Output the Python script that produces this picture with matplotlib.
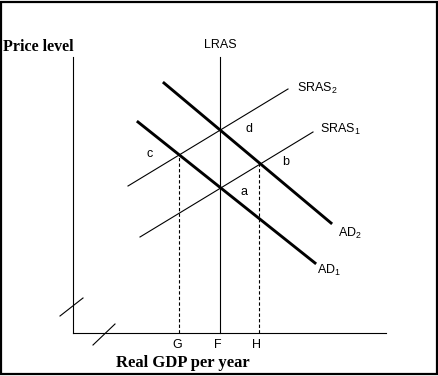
import matplotlib.pyplot as plt

plt.rcParams['mathtext.fontset'] = 'custom'
plt.rcParams['mathtext.rm'] = 'Liberation Sans'

# curve end points (x = real GDP, y = price level), origin at the axes corner
lras_x = [147, 147]
lras_y = [0, 276]
sras1_x = [67, 240]
sras1_y = [96, 201]
sras2_x = [55, 215]
sras2_y = [147, 244]
ad1_x = [65, 242]
ad1_y = [211, 70]
ad2_x = [91, 258]
ad2_y = [250, 110]

# output levels marked on the x axis and the equilibrium heights above them
gdp_ticks = ["G", "F", "H"]
gdp_x = [106, 147, 186]
dashed_top = [178, None, 170]

# point labels
point_labels = ["a", "b", "c", "d"]
point_x = [171, 213, 77, 176]
point_y = [141, 171, 179, 204]

x_axis_end = 313
y_axis_end = 276

fig = plt.figure(figsize=(4.39, 3.76), dpi=100)
ax = fig.add_axes([0, 0, 1, 1])
ax.set_xlim(-73, 366)
ax.set_ylim(-43, 333)
ax.axis("off")

thin = 0.8
sans = "Liberation Sans"
serif = "Liberation Serif"
fs = 9

# border around the picture
fig.patches.append(plt.Rectangle((0.002, 0.004), 0.994, 0.992, transform=fig.transFigure,
                                 fill=False, edgecolor="black", linewidth=1.6))

# axes
ax.plot([0, 0], [0, y_axis_end], color="black", lw=thin)
ax.plot([0, x_axis_end], [0, 0], color="black", lw=thin)
# axis break marks
ax.plot([-13, 10], [17, 35], color="black", lw=thin)
ax.plot([20, 42], [-12, 9], color="black", lw=thin)

# curves
ax.plot(lras_x, lras_y, color="black", lw=thin)
ax.plot(sras1_x, sras1_y, color="black", lw=thin)
ax.plot(sras2_x, sras2_y, color="black", lw=thin)
ax.plot(ad1_x, ad1_y, color="black", lw=thin * 2.6)
ax.plot(ad2_x, ad2_y, color="black", lw=thin * 2.6)

for x, top in zip(gdp_x, dashed_top):
    if top is not None:
        ax.plot([x, x], [0, top], color="black", lw=thin, linestyle=(0, (3, 2)))

for lab, x in zip(gdp_ticks, gdp_x):
    ax.text(x - 2, -12, lab, fontsize=fs, family=sans, ha="center", va="center")

for lab, x, y in zip(point_labels, point_x, point_y):
    ax.text(x, y, lab, fontsize=fs, family=sans, ha="center", va="center")

ax.text(lras_x[1], y_axis_end + 12, "LRAS", fontsize=fs, family=sans, ha="center", va="center")
ax.text(sras2_x[1] + 9, sras2_y[1] + 1, r"SRAS$_\mathrm{2}$", fontsize=fs, family=sans, ha="left", va="center")
ax.text(sras1_x[1] + 7, sras1_y[1] + 3, r"SRAS$_\mathrm{1}$", fontsize=fs, family=sans, ha="left", va="center")
ax.text(ad2_x[1] + 7, ad2_y[1] - 10, r"AD$_\mathrm{2}$", fontsize=fs, family=sans, ha="left", va="center")
ax.text(ad1_x[1] + 2, ad1_y[1] - 7, r"AD$_\mathrm{1}$", fontsize=fs, family=sans, ha="left", va="center")

ax.text(-70, 286, "Price level", fontsize=11.5, family=serif, weight="bold", ha="left", va="center")
ax.text(110, -30, "Real GDP per year", fontsize=12, family=serif, weight="bold", ha="center", va="center")

fig.savefig("out.png", dpi=100)
